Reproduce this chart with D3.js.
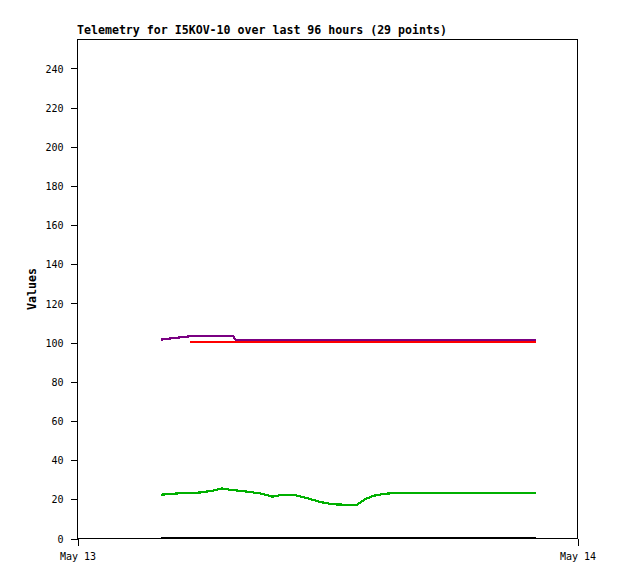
<!DOCTYPE html>
<html>
<head>
<meta charset="utf-8">
<script src="https://cdn.jsdelivr.net/npm/d3@7"></script>
<style>
  html, body { margin: 0; padding: 0; background: #fff; }
  svg { display: block; }
  text { font-family: "DejaVu Sans Mono", "Liberation Mono", monospace; fill: #000; }
</style>
</head>
<body>
<svg id="chart" width="618" height="579"></svg>
<script>
// ---- data ----
const title = "Telemetry for I5KOV-10 over last 96 hours (29 points)";
const yAxisLabel = "Values";
const day = "2024-05-13";
const times = ["04:02","04:34","05:25","05:54","06:32","06:58","07:29","07:38","08:18","08:53",
               "09:22","09:53","10:31","11:05","11:40","12:17","12:52","13:26","13:52","14:15",
               "14:47","15:30","16:28","17:25","18:23","19:21","20:18","21:10","22:02"];
const seriesBlack  = [0,0,0,0,0,0,0,0,0,0,0,0,0,0,0,0,0,0,0,0,0,0,0,0,0,0,0,0,0];
const seriesGreen  = [22.1,22.6,23.1,23.2,24.2,25.3,24.4,24.3,23.5,22.6,
                      21.1,22.1,21.8,20.2,18.4,17.2,17.0,17.0,20.0,21.6,
                      22.6,23.1,23.1,23.1,23.1,23.1,23.1,23.1,23.1];
const seriesRed    = [null,null,100.1,100.1,100.1,100.1,100.1,100.1,100.1,100.1,
                      100.1,100.1,100.1,100.1,100.1,100.1,100.1,100.1,100.1,100.1,
                      100.1,100.1,100.1,100.1,100.1,100.1,100.1,100.1,100.1];
const seriesPurple = [101.3,102.0,103.0,103.0,103.0,103.0,103.0,101.2,101.2,101.2,
                      101.2,101.2,101.2,101.2,101.2,101.2,101.2,101.2,101.2,101.2,
                      101.2,101.2,101.2,101.2,101.2,101.2,101.2,101.2,101.2];
const yTicks = [0,20,40,60,80,100,120,140,160,180,200,220,240];
const yMax = 255;
const xTickDates = ["2024-05-13","2024-05-14"];
const xTickLabels = ["May 13","May 14"];

// ---- chart ----
(function () {
const svg = d3.select("#chart");
const mLeft = 77, mRight = 577, mTop = 38.6, mBottom = 538;

const parseT = d3.timeParse("%Y-%m-%d %H:%M");
const parseD = d3.timeParse("%Y-%m-%d");
const dates = times.map(t => parseT(day + " " + t));
const xTicks = xTickDates.map(parseD);

const x = d3.scaleTime().domain([xTicks[0], xTicks[1]]).range([mLeft, mRight]);
const y = d3.scaleLinear().domain([0, yMax]).range([mBottom, mTop]);

// frame
svg.append("rect")
  .attr("x", mLeft + 0.5).attr("y", Math.round(mTop) + 0.5)
  .attr("width", mRight - mLeft).attr("height", mBottom - Math.round(mTop))
  .attr("fill", "none").attr("stroke", "#000").attr("stroke-width", 1)
  .attr("shape-rendering", "crispEdges");

// y axis
const yAxis = d3.axisLeft(y).tickValues(yTicks).tickSize(7).tickPadding(7)
  .tickFormat(d3.format("d"));
const gy = svg.append("g").attr("transform", `translate(${mLeft + 0.5},0.5)`).call(yAxis);
gy.select(".domain").remove();
gy.selectAll(".tick line").attr("shape-rendering", "crispEdges");
gy.selectAll(".tick text").style("font-size", "10px")
  .style("font-family", "'DejaVu Sans Mono', monospace").attr("dy", "0.36em");

// x axis
const xAxis = d3.axisBottom(x).tickValues(xTicks).tickSize(7).tickPadding(7)
  .tickFormat((d, i) => xTickLabels[i]);
const gx = svg.append("g").attr("transform", `translate(0.5,${mBottom + 0.5})`).call(xAxis);
gx.select(".domain").remove();
gx.selectAll(".tick line").attr("shape-rendering", "crispEdges");
gx.selectAll(".tick text").style("font-size", "10px")
  .style("font-family", "'DejaVu Sans Mono', monospace");

// series
const series = [
  {values: seriesBlack,  color: "#000000"},
  {values: seriesGreen,  color: "#00b000"},
  {values: seriesRed,    color: "#ff0000"},
  {values: seriesPurple, color: "#7a0082"}
];
const line = d3.line()
  .defined(d => d.v !== null)
  .x(d => x(d.t))
  .y(d => y(d.v));

svg.append("g").selectAll("path").data(series).join("path")
  .attr("d", s => line(s.values.map((v, i) => ({t: dates[i], v}))))
  .attr("fill", "none")
  .attr("stroke", s => s.color)
  .attr("stroke-width", 2.2)
  .attr("shape-rendering", "crispEdges");

// title
svg.append("text")
  .attr("x", mLeft).attr("y", 34)
  .style("font-size", "11.6px").style("font-weight", "bold")
  .text(title);

// y label
svg.append("text")
  .attr("transform", "translate(35.5,289) rotate(-90)")
  .attr("text-anchor", "middle")
  .style("font-size", "11.6px").style("font-weight", "bold")
  .text(yAxisLabel);
})();
</script>
</body>
</html>
